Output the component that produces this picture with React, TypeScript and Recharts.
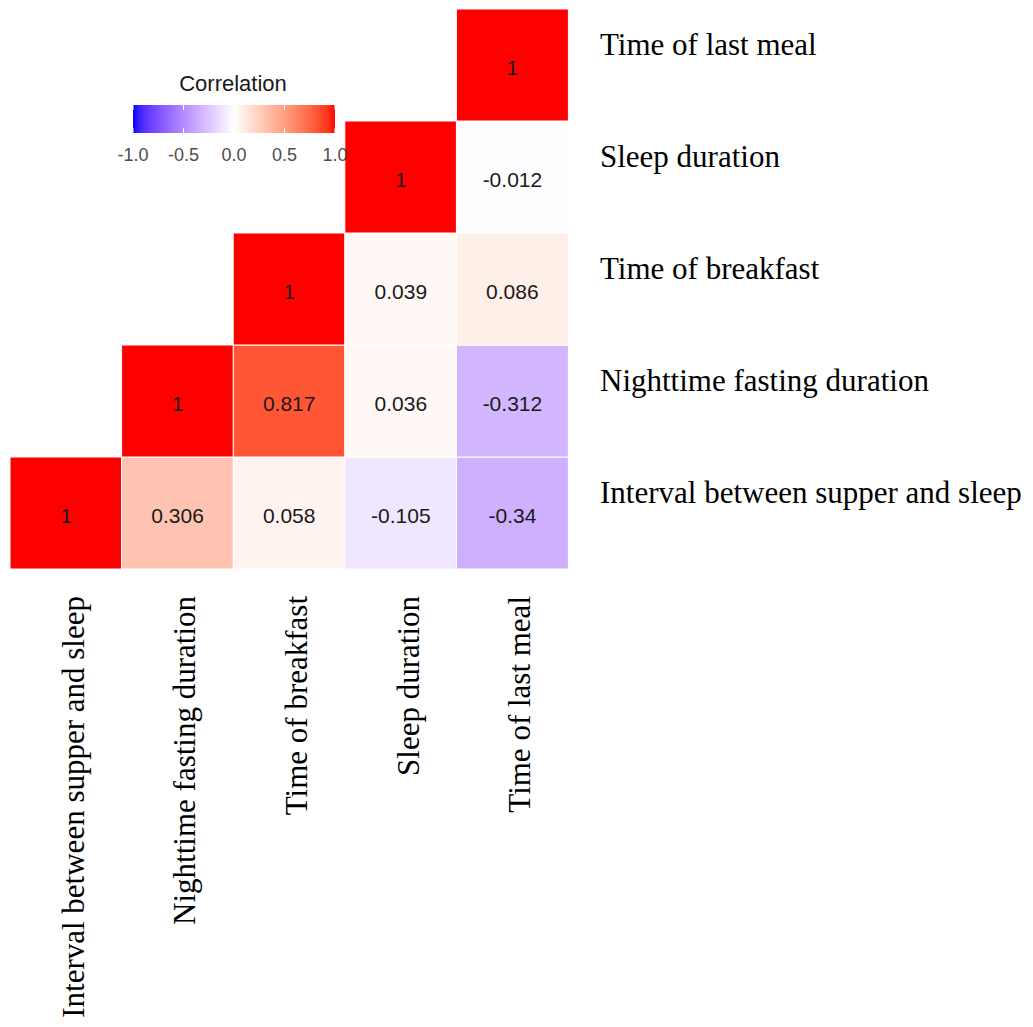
import React from 'react';
import { BarChart, Bar, XAxis, YAxis, Cell, LabelList, Legend } from 'recharts';

// Variables (columns left→right, rows bottom→top)
const variables = [
  'Interval between supper and sleep',
  'Nighttime fasting duration',
  'Time of breakfast',
  'Sleep duration',
  'Time of last meal',
];

// Correlation values per row (row variable), indexed by column variable
const corrInterval = [1, 0.306, 0.058, -0.105, -0.34];
const corrNighttime = [null, 1, 0.817, 0.036, -0.312];
const corrBreakfast = [null, null, 1, 0.039, 0.086];
const corrSleep = [null, null, null, 1, -0.012];
const corrLastMeal = [null, null, null, null, 1];

const corrRows: (number | null)[][] = [corrInterval, corrNighttime, corrBreakfast, corrSleep, corrLastMeal];

const rowTicks = [0.5, 1.5, 2.5, 3.5, 4.5];
const legendTicks = [-1, -0.5, 0, 0.5, 1];
const legendTitle = 'Correlation';

const data = variables.map((name, j) => {
  const row: any = { name };
  corrRows.forEach((r, i) => {
    row[`cell${i}`] = r[j] === null ? null : 1;
    row[`corr${i}`] = r[j];
  });
  return row;
});

// ---- colour scale (gradient2 in Lab space: blue - white - red) ----
const LAB_WHITE = [100, 0, 0];
const LAB_RED = [53.2408, 80.0925, 67.2032];
const LAB_BLUE = [32.297, 79.1875, -107.8602];

function labToHex(L: number, a: number, b: number) {
  const fy = (L + 16) / 116;
  const fx = fy + a / 500;
  const fz = fy - b / 200;
  const finv = (t: number) => (t * t * t > 0.008856 ? t * t * t : (t - 16 / 116) / 7.787);
  const X = 0.95047 * finv(fx);
  const Y = 1.0 * finv(fy);
  const Z = 1.08883 * finv(fz);
  const r = 3.2406 * X - 1.5372 * Y - 0.4986 * Z;
  const g = -0.9689 * X + 1.8758 * Y + 0.0415 * Z;
  const bb = 0.0557 * X - 0.204 * Y + 1.057 * Z;
  const gam = (c: number) => (c <= 0.0031308 ? 12.92 * c : 1.055 * Math.pow(c, 1 / 2.4) - 0.055);
  const to = (c: number) => {
    const v = Math.round(Math.max(0, Math.min(1, gam(c))) * 255);
    return v.toString(16).padStart(2, '0');
  };
  return '#' + to(r) + to(g) + to(bb);
}

function corrColor(v: number) {
  const t = Math.max(-1, Math.min(1, v));
  const end = t >= 0 ? LAB_RED : LAB_BLUE;
  const k = Math.abs(t);
  return labToHex(
    LAB_WHITE[0] + k * (end[0] - LAB_WHITE[0]),
    LAB_WHITE[1] + k * (end[1] - LAB_WHITE[1]),
    LAB_WHITE[2] + k * (end[2] - LAB_WHITE[2])
  );
}

const SERIF = '"Liberation Serif", "Times New Roman", serif';
const SANS = '"Liberation Sans", Arial, sans-serif';

const CellLabel = (props: any) => {
  const { x, y, width, height, value } = props;
  if (value === null || value === undefined) return null;
  return (
    <text
      x={x + width / 2}
      y={y + height / 2 + 2}
      textAnchor="middle"
      dominantBaseline="central"
      fontFamily={SANS}
      fontSize={21}
      fill="#1a1a1a"
    >
      {String(value)}
    </text>
  );
};

const XTick = (props: any) => {
  const { x, y, payload } = props;
  return (
    <text
      transform={`translate(${x + 18},${y + 27}) rotate(-90)`}
      textAnchor="end"
      fontFamily={SERIF}
      fontSize={31}
      fill="#000"
    >
      {payload.value}
    </text>
  );
};

const YTick = (props: any) => {
  const { x, y, payload } = props;
  const idx = rowTicks.indexOf(payload.value);
  return (
    <text x={x + 32} y={y - 10} textAnchor="start" fontFamily={SERIF} fontSize={31} fill="#000">
      {variables[idx]}
    </text>
  );
};

const LegendContent = () => {
  const bx0 = 133;
  const bx1 = 335;
  const by0 = 105;
  const by1 = 133;
  const pos = (v: number) => bx0 + ((v + 1) / 2) * (bx1 - bx0);
  const stops = Array.from({ length: 41 }, (_, i) => -1 + i * 0.05);
  return (
    <svg width={400} height={200} style={{ display: 'block' }}>
      <defs>
        <linearGradient id="corrGrad" x1="0" y1="0" x2="1" y2="0">
          {stops.map((s, i) => (
            <stop key={i} offset={`${((s + 1) / 2) * 100}%`} stopColor={corrColor(s)} />
          ))}
        </linearGradient>
      </defs>
      <text x={233} y={91} textAnchor="middle" fontFamily={SANS} fontSize={22} fill="#1a1a1a">
        {legendTitle}
      </text>
      <rect x={bx0} y={by0} width={bx1 - bx0} height={by1 - by0} fill="url(#corrGrad)" />
      {legendTicks.map((t, i) => (
        <g key={i}>
          <line x1={pos(t)} x2={pos(t)} y1={by0} y2={by0 + 5} stroke="#fff" strokeWidth={1} />
          <line x1={pos(t)} x2={pos(t)} y1={by1 - 5} y2={by1} stroke="#fff" strokeWidth={1} />
          <text x={pos(t)} y={161} textAnchor="middle" fontFamily={SANS} fontSize={18} fill="#4d4d4d">
            {t.toFixed(1)}
          </text>
        </g>
      ))}
    </svg>
  );
};

export default function App() {
  return (
    <div style={{ position: 'absolute', left: 0, top: 0, width: 1033, height: 1027, background: '#fff' }}>
      <BarChart
        width={1033}
        height={1027}
        data={data}
        margin={{ top: 9, right: 0, bottom: 0, left: 10 }}
        barCategoryGap={0}
        barGap={0}
      >
        <XAxis
          dataKey="name"
          type="category"
          axisLine={false}
          tickLine={false}
          tickSize={0}
          tickMargin={0}
          height={458}
          interval={0}
          tick={<XTick />}
        />
        <YAxis
          orientation="right"
          type="number"
          domain={[0, 5]}
          ticks={rowTicks}
          allowDataOverflow
          axisLine={false}
          tickLine={false}
          tickSize={0}
          tickMargin={0}
          width={465}
          interval={0}
          tick={<YTick />}
        />
        <Legend
          layout="horizontal"
          verticalAlign="middle"
          align="center"
          content={<LegendContent />}
          wrapperStyle={{ position: 'absolute', left: 0, top: 0, width: 400, height: 200 }}
        />
        {corrRows.map((r, i) => (
          <Bar
            key={i}
            dataKey={`cell${i}`}
            stackId="matrix"
            isAnimationActive={false}
            stroke="#fff"
            strokeWidth={1}
          >
            {data.map((d, j) => (
              <Cell key={j} fill={corrColor(r[j] ?? 0)} />
            ))}
            <LabelList dataKey={`corr${i}`} content={<CellLabel />} />
          </Bar>
        ))}
      </BarChart>
    </div>
  );
}
